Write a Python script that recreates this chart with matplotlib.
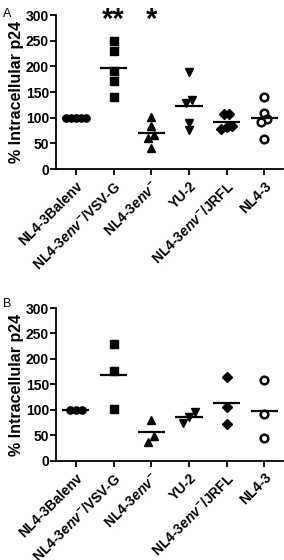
import matplotlib
matplotlib.use("Agg")
import matplotlib.pyplot as plt
import numpy as np

plt.rcParams['font.family'] = ['Liberation Sans', 'DejaVu Sans']
plt.rcParams['mathtext.fontset'] = 'custom'
plt.rcParams['mathtext.rm'] = 'Liberation Sans:bold'
plt.rcParams['mathtext.it'] = 'Liberation Sans:bold:italic'

labels = ["NL4-3Balenv", r"NL4-3$\it{env}^{-}$/VSV-G", r"NL4-3$\it{env}^{-}$",
          "YU-2", r"NL4-3$\it{env}^{-}$/JRFL", "NL4-3"]

# panel A (5 experiments)
a_vals = [
    [100, 100, 100, 100, 100],
    [250, 230, 192, 172, 141],
    [101, 84, 66, 60, 41],
    [190, 134, 128, 89, 76],
    [108, 107, 84, 82, 78],
    [140, 109, 97, 92, 58],
]
# panel B (3 experiments)
b_vals = [
    [100, 100, 100],
    [229, 177, 102],
    [81, 49, 38],
    [95, 86, 75],
    [165, 105, 72],
    [158, 92, 45],
]
a_stars = ["", "**", "*", "", "", ""]

markers = ['o', 's', '^', 'v', 'D', 'o']
filled = [True, True, True, True, True, False]


# spread close values sideways, like a small swarm
def swarm(vals, gap=12, step=0.15):
    order = np.argsort(vals)
    offs = np.zeros(len(vals))
    clusters = []
    for i in order:
        if clusters and abs(vals[i] - vals[clusters[-1][-1]]) < gap:
            clusters[-1].append(i)
        else:
            clusters.append([i])
    for c in clusters:
        n = len(c)
        st = step if n < 5 else step * 0.85
        for k, i in enumerate(c):
            offs[i] = (k - (n - 1) / 2) * st
    return offs


def draw(ax, data, stars=None):
    for g, vals in enumerate(data):
        vals = np.array(vals, dtype=float)
        x = g + swarm(vals)
        ms = 5.2 if markers[g] != 'D' else 4.6
        if filled[g]:
            ax.plot(x, vals, linestyle='none', marker=markers[g], ms=ms,
                    color='black', clip_on=False, zorder=3)
        else:
            ax.plot(x, vals, linestyle='none', marker='o', ms=5.5,
                    mfc='white', mec='black', mew=1.8, clip_on=False, zorder=3)
        ax.hlines(vals.mean(), g - 0.36, g + 0.36, color='black', lw=1.6, zorder=4)
        if stars and stars[g]:
            ax.text(g, 290, stars[g], ha='center', va='center', fontsize=21,
                    fontweight='bold', clip_on=False)
    ax.set_xlim(-0.53, 5.5)
    ax.set_ylim(0, 300)
    ax.set_yticks(range(0, 301, 50))
    ax.set_xticks(range(len(labels)))
    ax.set_xticklabels(labels, rotation=45, ha='right', rotation_mode='anchor',
                       fontsize=10, fontweight='bold')
    for t in ax.get_yticklabels():
        t.set_fontweight('bold')
        t.set_fontsize(10)
    ax.spines['top'].set_visible(False)
    ax.spines['right'].set_visible(False)
    ax.spines['left'].set_linewidth(1.3)
    ax.spines['bottom'].set_linewidth(1.3)
    ax.tick_params(width=1.3, length=4, pad=1)
    ax.tick_params(axis='x', pad=3)
    ax.set_ylabel("% Intracellular p24", fontsize=11.5, fontweight='bold', labelpad=1)


fig = plt.figure(figsize=(2.84, 5.6), dpi=100)
ax1 = fig.add_axes([0.197, 0.698, 0.80, 0.275])
ax2 = fig.add_axes([0.197, 0.177, 0.80, 0.273])
draw(ax1, a_vals, a_stars)
draw(ax2, b_vals)
fig.text(0.012, 0.985, "A", fontsize=9, va='top')
fig.text(0.012, 0.468, "B", fontsize=9, va='top')

fig.savefig("out.png", dpi=100)
